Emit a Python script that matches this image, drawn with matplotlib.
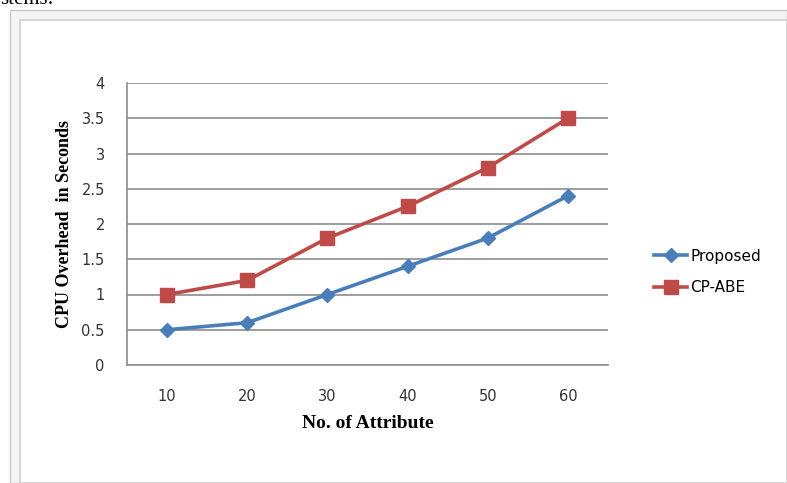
import matplotlib.pyplot as plt
from matplotlib.patches import Rectangle

attributes = ["10", "20", "30", "40", "50", "60"]
proposed = [0.5, 0.6, 1.0, 1.4, 1.8, 2.4]
cp_abe = [1.0, 1.2, 1.8, 2.25, 2.8, 3.5]
y_ticks = [0, 0.5, 1, 1.5, 2, 2.5, 3, 3.5, 4]

fig = plt.figure(figsize=(7.87, 4.83), dpi=100)

# window frame around the embedded chart (kept behind the axes)
fig.patches.append(Rectangle((10 / 787, 0), 777 / 787, 1 - 10 / 483,
                             transform=fig.transFigure, facecolor="#f4f4f4",
                             edgecolor="#c8c8c8", lw=1, zorder=-2))
fig.patches.append(Rectangle((20 / 787, 0), 767 / 787, 1 - 20 / 483,
                             transform=fig.transFigure, facecolor="white",
                             edgecolor="#d0d0d0", lw=1.2, zorder=-1))
fig.text(0.0, 1.0, "stems:", fontsize=15, family="Liberation Serif",
         va="center", ha="left")

ax = fig.add_axes([127 / 787, 1 - 365 / 483, 481 / 787, 282 / 483])
ax.patch.set_alpha(0)
x = range(len(attributes))
ax.plot(x, proposed, color="#4a7ebb", lw=2.6, marker="D", ms=7.5,
        label="Proposed")
ax.plot(x, cp_abe, color="#be4b48", lw=2.6, marker="s", ms=9.5,
        label="CP-ABE")

ax.set_xlim(-0.5, len(attributes) - 0.5)
ax.set_ylim(0, 4)
ax.set_xticks(list(x))
ax.set_xticklabels(attributes)
ax.set_yticks(y_ticks)
ax.set_yticklabels([f"{v:g}" for v in y_ticks])
ax.yaxis.grid(True, color="#8c8c8c", lw=1.2)
ax.set_axisbelow(True)
for side in ["top", "right"]:
    ax.spines[side].set_visible(False)
for side in ["left", "bottom"]:
    ax.spines[side].set_color("#8c8c8c")
    ax.spines[side].set_linewidth(1.2)
ax.tick_params(length=0, labelsize=10.5, colors="#333333")
ax.tick_params(axis="y", pad=16)
ax.tick_params(axis="x", pad=17)

ax.set_xlabel("No. of Attribute", family="Liberation Serif",
              fontweight="bold", fontsize=14, labelpad=8)
ax.set_ylabel("CPU Overhead  in Seconds", family="Liberation Serif",
              fontweight="bold", fontsize=13, labelpad=6)

fig.legend(loc="center left", bbox_to_anchor=(640 / 787, 1 - 272 / 483),
           frameon=False, fontsize=11, handlelength=2.2,
           labelspacing=1.1, handletextpad=0.2)

fig.savefig("out.png", dpi=100)
